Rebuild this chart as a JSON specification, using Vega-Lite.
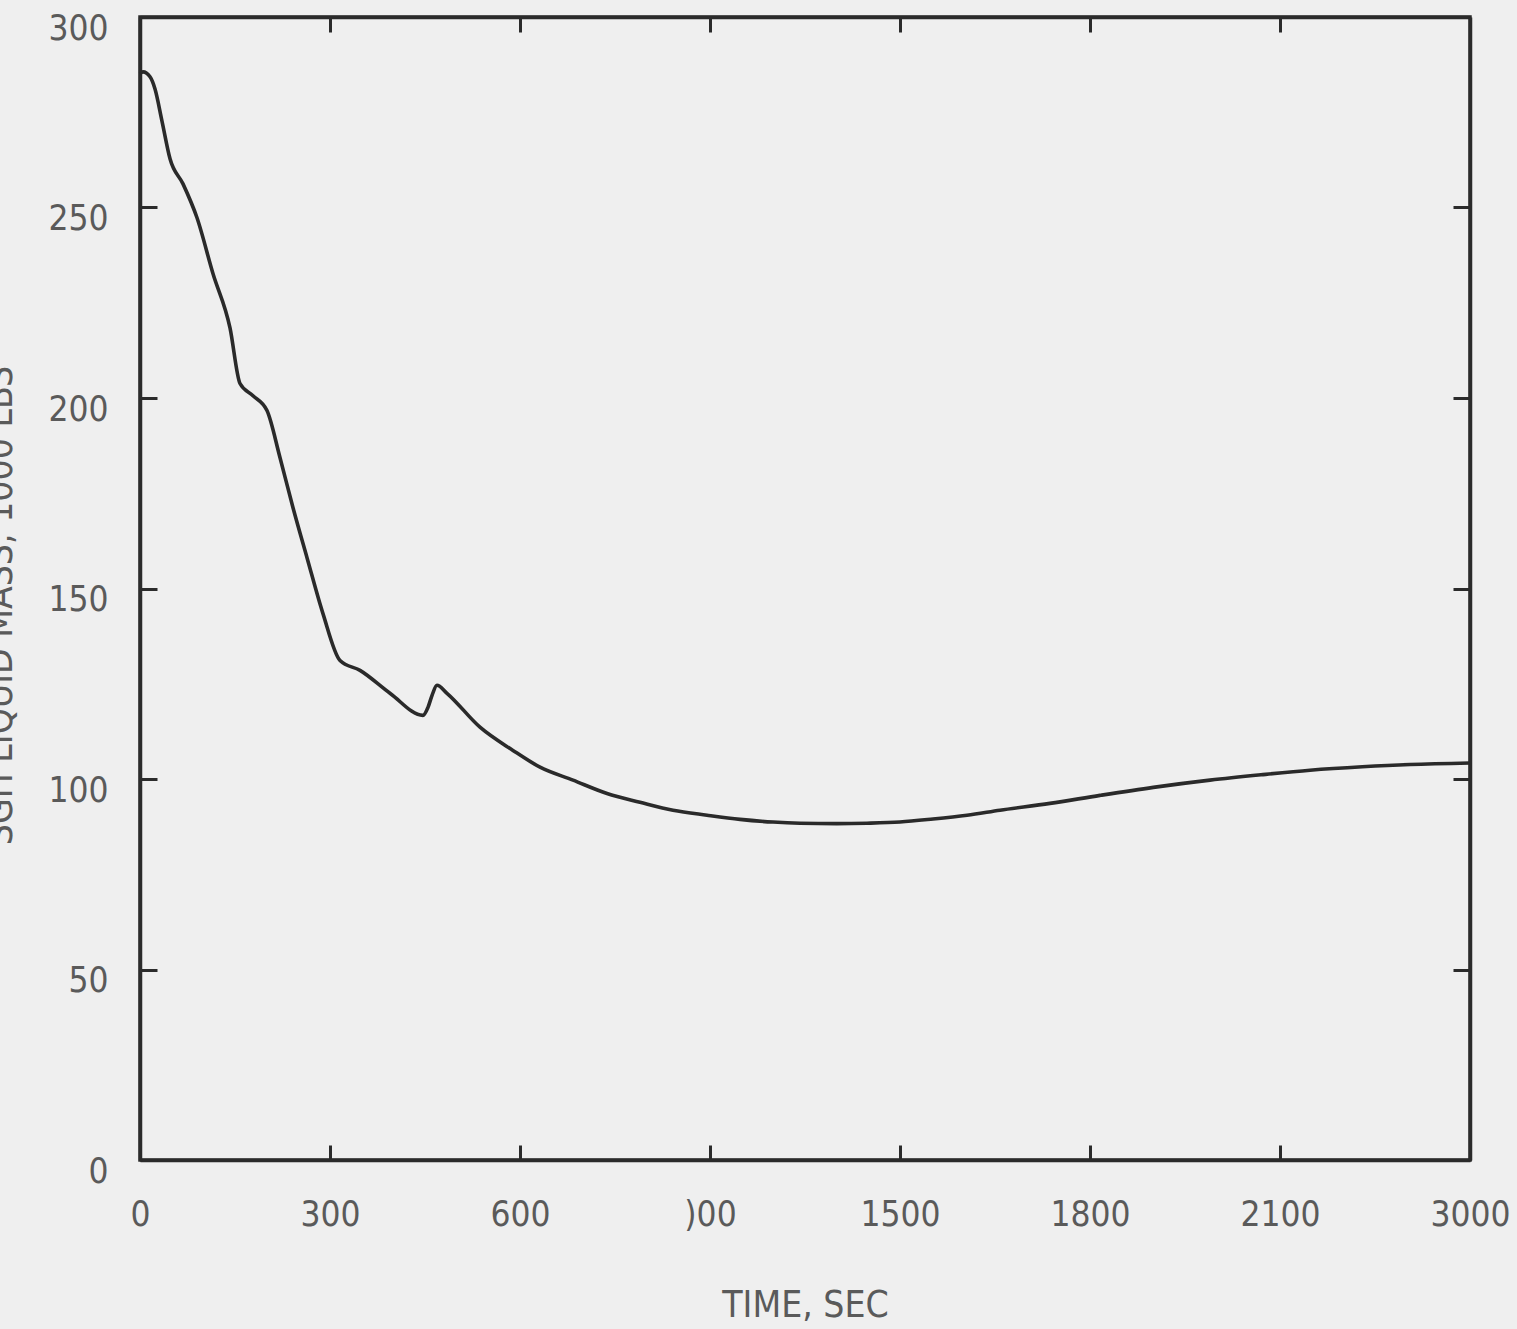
{
  "$schema": "https://vega.github.io/schema/vega-lite/v6.json",
  "autosize": "none",
  "width": 1330,
  "height": 1143,
  "padding": {"left": 140, "top": 17, "right": 47, "bottom": 169},
  "background": "#efefef",
  "config": {
    "view": {"stroke": "#2b2b2b", "strokeWidth": 3.5, "fill": "#efefef"},
    "axis": {
      "labelFont": "Liberation Sans Narrow, DejaVu Sans Condensed, sans-serif",
      "titleFont": "Liberation Sans Narrow, DejaVu Sans Condensed, sans-serif",
      "labelFontSize": 35,
      "titleFontSize": 37,
      "labelColor": "#5a5a5a",
      "titleColor": "#5a5a5a",
      "titleFontWeight": "normal",
      "domainColor": "#2b2b2b",
      "domainWidth": 3.5,
      "tickColor": "#2b2b2b",
      "tickWidth": 3,
      "grid": false
    }
  },
  "data": {
    "values": [
      {"t": 0, "m": 285.1},
      {"t": 4.7, "m": 285.6},
      {"t": 15.8, "m": 284.3},
      {"t": 23.7, "m": 281.1},
      {"t": 34.7, "m": 272.7},
      {"t": 47.4, "m": 262.8},
      {"t": 67.9, "m": 256.2},
      {"t": 90, "m": 247.3},
      {"t": 115.3, "m": 232.6},
      {"t": 142.1, "m": 218.4},
      {"t": 157.9, "m": 203.8},
      {"t": 178.4, "m": 200.6},
      {"t": 200.5, "m": 196.7},
      {"t": 221, "m": 184.4},
      {"t": 241.6, "m": 171.2},
      {"t": 263.7, "m": 158.1},
      {"t": 288.9, "m": 143.4},
      {"t": 315.8, "m": 131.1},
      {"t": 347.4, "m": 128.5},
      {"t": 394.7, "m": 122.5},
      {"t": 446.8, "m": 116.7},
      {"t": 454.7, "m": 118.8},
      {"t": 461, "m": 121.9},
      {"t": 468.9, "m": 124.6},
      {"t": 484.7, "m": 122.5},
      {"t": 536.8, "m": 113.6},
      {"t": 588.9, "m": 107.5},
      {"t": 631.6, "m": 103.1},
      {"t": 683.7, "m": 99.7},
      {"t": 737.4, "m": 96.2},
      {"t": 789.5, "m": 93.9},
      {"t": 841.6, "m": 91.8},
      {"t": 895.3, "m": 90.5},
      {"t": 947.4, "m": 89.4},
      {"t": 999.5, "m": 88.7},
      {"t": 1042.1, "m": 88.4},
      {"t": 1100, "m": 88.3},
      {"t": 1147.9, "m": 88.4},
      {"t": 1200, "m": 88.7},
      {"t": 1252.1, "m": 89.5},
      {"t": 1305.8, "m": 90.5},
      {"t": 1357.9, "m": 91.8},
      {"t": 1436.8, "m": 93.6},
      {"t": 1515.8, "m": 95.7},
      {"t": 1600, "m": 97.8},
      {"t": 1689.5, "m": 99.7},
      {"t": 1770, "m": 101.1},
      {"t": 1847.4, "m": 102.3},
      {"t": 1930, "m": 103.2},
      {"t": 2005.3, "m": 103.8},
      {"t": 2100, "m": 104.2}
    ]
  },
  "layer": [
    {
      "mark": {"type": "line", "color": "#2a2a2a", "strokeWidth": 3.6, "interpolate": "monotone"},
      "encoding": {
        "x": {
          "field": "t", "type": "quantitative",
          "scale": {"domain": [0, 2100], "nice": false, "zero": false},
          "axis": {
            "orient": "bottom",
            "values": [0, 300, 600, 900, 1200, 1500, 1800, 2100],
            "labelExpr": "datum.value == 0 ? '0' : datum.value == 300 ? '300' : datum.value == 600 ? '600' : datum.value == 900 ? ')00' : datum.value == 1200 ? '1500' : datum.value == 1500 ? '1800' : datum.value == 1800 ? '2100' : '3000'",
            "tickSize": -15,
            "labelPadding": 52,
            "labelFlush": false,
            "labelOverlap": false,
            "title": "TIME, SEC",
            "titleX": 665,
            "titleY": 145,
            "titleBaseline": "middle",
            "titleAlign": "center"
          }
        },
        "y": {
          "field": "m", "type": "quantitative",
          "scale": {"domain": [0, 300], "nice": false},
          "axis": {
            "orient": "left",
            "values": [0, 50, 100, 150, 200, 250, 300],
            "tickSize": -17,
            "labelPadding": 49,
            "labelOffset": 11,
            "labelFlush": false,
            "labelOverlap": false,
            "title": "SGH LIQUID MASS, 1000 LBS",
            "titleAngle": -90,
            "titleX": -140,
            "titleY": 588,
            "titleBaseline": "middle",
            "titleAlign": "center"
          }
        }
      }
    },
    {
      "mark": {"type": "line", "strokeOpacity": 0},
      "encoding": {
        "x": {
          "field": "t", "type": "quantitative",
          "axis": {
            "orient": "top",
            "values": [300, 600, 900, 1200, 1500, 1800],
            "tickSize": -15,
            "labels": false,
            "title": null
          }
        },
        "y": {
          "field": "m", "type": "quantitative",
          "axis": {
            "orient": "right",
            "values": [50, 100, 150, 200, 250],
            "tickSize": -17,
            "labels": false,
            "title": null
          }
        }
      }
    }
  ]
}
